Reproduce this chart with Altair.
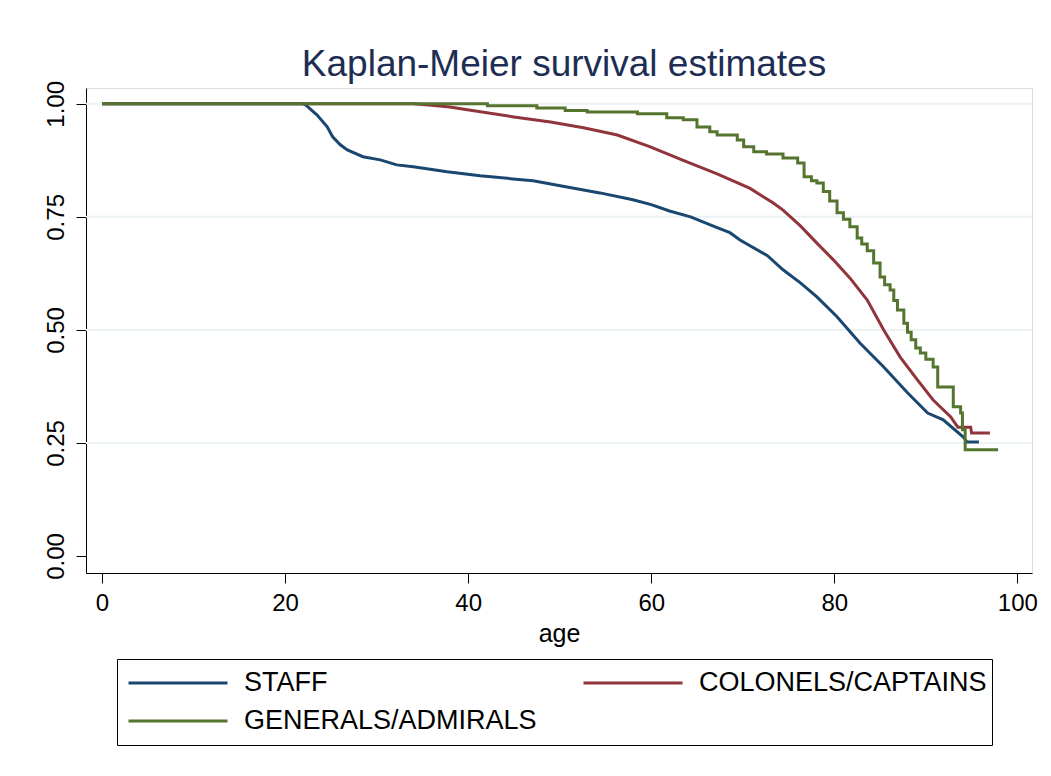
import altair as alt
import pandas as pd

# ---- data ----
series_names = ["STAFF", "COLONELS/CAPTAINS", "GENERALS/ADMIRALS"]
series_colors = ["#1a476f", "#90353b", "#55752f"]

age_staff = [0, 22.0, 22.4, 23.5, 24.6, 25.2, 26.0, 26.8, 28.5, 30.4, 32.2, 34.0, 37.7,
             41.3, 44.9, 47.1, 50.8, 54.4, 58.0, 60.0, 62.0, 64.3, 67.2, 68.6, 69.7,
             72.7, 74.4, 76.3, 78.1, 80.3, 82.8, 85.4, 88.0, 90.2, 91.9, 94.1, 94.5, 95.8]
surv_staff = [1.0, 1.0, 0.995, 0.975, 0.949, 0.927, 0.910, 0.898, 0.883, 0.876, 0.865, 0.861, 0.850,
              0.841, 0.834, 0.830, 0.816, 0.803, 0.788, 0.777, 0.763, 0.750, 0.726, 0.715, 0.699,
              0.664, 0.633, 0.604, 0.573, 0.529, 0.471, 0.418, 0.361, 0.316, 0.301, 0.263, 0.252, 0.252]

age_col = [0, 34.0, 36.0, 38.0, 41.5, 45.0, 49.0, 52.6, 56.3, 59.9, 63.5, 67.2, 70.8, 73.3,
           74.4, 76.3, 78.1, 79.9, 81.7, 83.6, 85.4, 87.2, 89.1, 90.8, 92.7, 93.5, 94.9, 95.0, 97.0]
surv_col = [1.0, 1.0, 0.997, 0.993, 0.982, 0.971, 0.960, 0.947, 0.931, 0.905, 0.875, 0.845, 0.813, 0.781,
            0.765, 0.730, 0.692, 0.655, 0.615, 0.566, 0.500, 0.440, 0.389, 0.345, 0.308, 0.285, 0.285, 0.272, 0.272]

age_gen = [0, 42.1, 47.5, 50.6, 53.0, 58.5, 61.7, 63.5, 65.0, 66.4, 67.2, 69.4, 70.1, 71.2, 72.6,
           74.4, 76.0, 76.7, 77.5, 78.1, 78.8, 79.5, 80.3, 81.0, 81.7, 82.5, 83.0, 83.6, 84.3, 85.0,
           85.5, 86.1, 86.5, 86.9, 87.6, 88.0, 88.4, 88.9, 89.4, 90.0, 90.8, 91.3, 93.0, 93.8, 94.0,
           94.3, 97.9]
surv_gen = [1.0, 0.996, 0.991, 0.985, 0.982, 0.978, 0.969, 0.965, 0.949, 0.938, 0.931, 0.920, 0.905, 0.894, 0.889,
            0.880, 0.869, 0.839, 0.830, 0.825, 0.806, 0.785, 0.759, 0.745, 0.728, 0.703, 0.690, 0.675, 0.648, 0.617,
            0.600, 0.588, 0.565, 0.544, 0.515, 0.495, 0.478, 0.460, 0.449, 0.435, 0.418, 0.374, 0.330, 0.316, 0.279,
            0.235, 0.235]

x_ticks = [0, 20, 40, 60, 80, 100]
y_ticks = [0.0, 0.25, 0.5, 0.75, 1.0]
grid_vals = [0.25, 0.5, 0.75, 1.0]

FONT = "Liberation Sans"

rows = []
for name, ages, surv in zip(series_names, [age_staff, age_col, age_gen], [surv_staff, surv_col, surv_gen]):
    for a, s in zip(ages, surv):
        rows.append({"age": a, "surv": s, "group": name})
df = pd.DataFrame(rows)
df_grid = pd.DataFrame({"surv": grid_vals})

xscale = alt.Scale(domain=[-1.75, 101.6], nice=False, zero=False)
yscale = alt.Scale(domain=[-0.0376, 1.035], nice=False, zero=False)

legend = alt.Legend(
    title=None, orient="none", legendX=31, legendY=571, columns=2,
    direction="horizontal",
    symbolType="stroke", symbolSize=9801, symbolStrokeWidth=3, symbolOffset=5,
    labelFont=FONT, labelFontSize=27, labelColor="black", labelOffset=15, labelLimit=0,
    columnPadding=40, rowPadding=0, clipHeight=38,
    strokeColor="black", padding=5, fillColor="white",
)
color = alt.Color("group:N", scale=alt.Scale(domain=series_names, range=series_colors),
                  sort=series_names, legend=legend)

xaxis = alt.Axis(values=x_ticks, title="age", grid=False, labelFont=FONT, labelFontSize=24,
                 titleFont=FONT, titleFontSize=25, titleFontWeight="normal",
                 labelColor="black", titleColor="black", tickSize=10, labelPadding=8,
                 titlePadding=6, domainColor="black", tickColor="black", labelFlush=False)
yaxis = alt.Axis(values=y_ticks, format=".2f", title=None, grid=False, labelAngle=270,
                 labelFont=FONT, labelFontSize=24, labelColor="black", tickSize=10,
                 labelPadding=8, domainColor="black", tickColor="black", labelFlush=False)

xenc = alt.X("age:Q", scale=xscale, axis=xaxis)
yenc = alt.Y("surv:Q", scale=yscale, axis=yaxis)

grid = alt.Chart(df_grid).mark_rule(color="#eaf2f3", strokeWidth=2).encode(
    y=alt.Y("surv:Q", scale=yscale, axis=yaxis)
)

lines_lin = alt.Chart(df).transform_filter(
    alt.datum.group != "GENERALS/ADMIRALS"
).mark_line(strokeWidth=3, interpolate="linear").encode(
    x=xenc, y=yenc, color=color, order="age:Q"
)
lines_step = alt.Chart(df).transform_filter(
    alt.datum.group == "GENERALS/ADMIRALS"
).mark_line(strokeWidth=3, interpolate="step-after").encode(
    x=xenc, y=yenc, color=color, order="age:Q"
)

chart = alt.layer(grid, lines_lin, lines_step).properties(
    width=946, height=485,
    autosize=alt.AutoSizeParams(type="none"),
    padding={"left": 78, "top": 80, "right": 11, "bottom": 190},
    title=alt.Title("Kaplan-Meier survival estimates", font=FONT, fontSize=37, fontWeight="normal",
                    color="#1e2d53", anchor="middle", offset=-4, dx=5),
).configure_view(stroke=None).configure(background="white")

chart.save("out.html", embed_options={"renderer": "svg", "actions": False})
